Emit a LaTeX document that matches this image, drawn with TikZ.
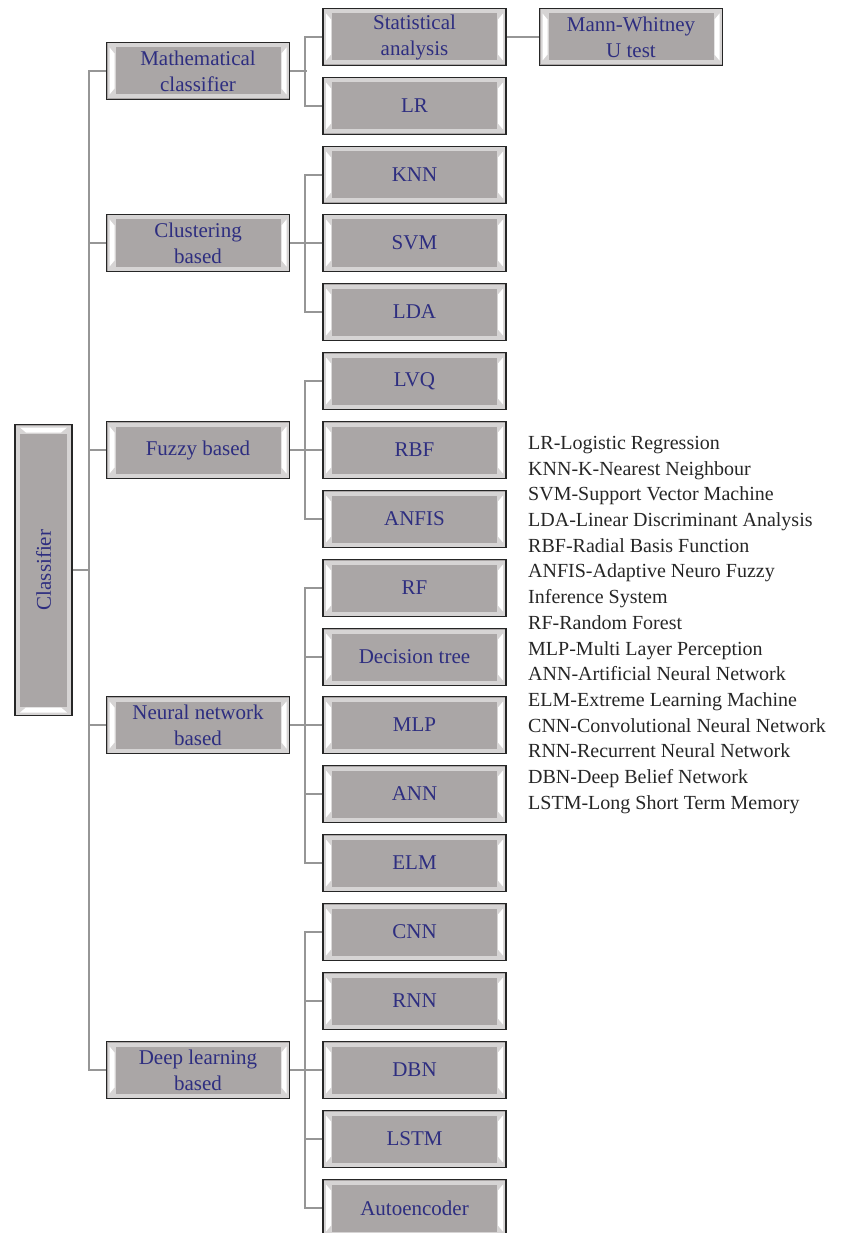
\documentclass[tikz,border=0pt]{standalone}
\usepackage{fontspec}
\usepackage{graphicx}
\setmainfont{Liberation Serif}
\definecolor{boxgray}{RGB}{170,166,166}
\definecolor{bevelgray}{RGB}{214,212,212}
\definecolor{labelblue}{RGB}{46,46,128}
\definecolor{linegray}{RGB}{150,150,150}

\tikzset{
    conn/.style={draw=linegray, line width=1.6pt},
    box/.style={draw=black!85, line width=1.5pt, fill=boxgray, inner sep=0pt,
        minimum width=183pt, minimum height=57pt, align=center, text=labelblue,
        font=\fontsize{21}{26}\selectfont,
        path picture={
            \fill[bevelgray] ([shift={(1pt,-1pt)}]path picture bounding box.north west) rectangle ([shift={(-1pt,1pt)}]path picture bounding box.south east);
            \fill[boxgray] ([shift={(9pt,-5pt)}]path picture bounding box.north west) rectangle ([shift={(-9pt,5pt)}]path picture bounding box.south east);
            \fill[white] ([shift={(3pt,-5pt)}]path picture bounding box.north west) -- ([shift={(8pt,-11pt)}]path picture bounding box.north west)
                -- ([shift={(8pt,11pt)}]path picture bounding box.south west) -- ([shift={(3pt,5pt)}]path picture bounding box.south west) -- cycle;
            \fill[white] ([shift={(-3pt,-5pt)}]path picture bounding box.north east) -- ([shift={(-8pt,-11pt)}]path picture bounding box.north east)
                -- ([shift={(-8pt,11pt)}]path picture bounding box.south east) -- ([shift={(-3pt,5pt)}]path picture bounding box.south east) -- cycle;
        }},
    tallbox/.style={draw=black!85, line width=1.5pt, fill=boxgray, inner sep=0pt,
        minimum width=57pt, minimum height=291pt, text=labelblue,
        font=\fontsize{21}{26}\selectfont,
        path picture={
            \fill[bevelgray] ([shift={(1pt,-1pt)}]path picture bounding box.north west) rectangle ([shift={(-1pt,1pt)}]path picture bounding box.south east);
            \fill[boxgray] ([shift={(5pt,-9pt)}]path picture bounding box.north west) rectangle ([shift={(-5pt,9pt)}]path picture bounding box.south east);
            \fill[white] ([shift={(5pt,-3pt)}]path picture bounding box.north west) -- ([shift={(11pt,-8pt)}]path picture bounding box.north west)
                -- ([shift={(-11pt,-8pt)}]path picture bounding box.north east) -- ([shift={(-5pt,-3pt)}]path picture bounding box.north east) -- cycle;
            \fill[white] ([shift={(5pt,3pt)}]path picture bounding box.south west) -- ([shift={(11pt,8pt)}]path picture bounding box.south west)
                -- ([shift={(-11pt,8pt)}]path picture bounding box.south east) -- ([shift={(-5pt,3pt)}]path picture bounding box.south east) -- cycle;
        }},
    abbrev/.style={align=left, inner sep=0pt, text=black!85, font=\fontsize{20}{25.7}\selectfont}
}

\begin{document}
\begin{tikzpicture}[x=1pt, y=-1pt]
    \useasboundingbox (0,0) rectangle (852,1233);
    % root
    \node[tallbox] (cls) at (43.5,570) {\rotatebox{90}{Classifier}};
    % first level
    \node[box] (math) at (198,71) {Mathematical\\classifier};
    \node[box] (clus) at (198,243) {Clustering\\based};
    \node[box] (fuzz) at (198,450) {Fuzzy based};
    \node[box] (neur) at (198,725) {Neural network\\based};
    \node[box] (deep) at (198,1070) {Deep learning\\based};
    % second level
    \node[box] (stat) at (414.5,37) {Statistical\\analysis};
    \node[box] (lr)   at (414.5,106) {LR};
    \node[box] (knn)  at (414.5,175) {KNN};
    \node[box] (svm)  at (414.5,243) {SVM};
    \node[box] (lda)  at (414.5,312) {LDA};
    \node[box] (lvq)  at (414.5,381) {LVQ};
    \node[box] (rbf)  at (414.5,450) {RBF};
    \node[box] (anfis) at (414.5,519) {ANFIS};
    \node[box] (rf)   at (414.5,588) {RF};
    \node[box] (dtree) at (414.5,657) {Decision tree};
    \node[box] (mlp)  at (414.5,725) {MLP};
    \node[box] (ann)  at (414.5,794) {ANN};
    \node[box] (elm)  at (414.5,863) {ELM};
    \node[box] (cnn)  at (414.5,932) {CNN};
    \node[box] (rnn)  at (414.5,1001) {RNN};
    \node[box] (dbn)  at (414.5,1070) {DBN};
    \node[box] (lstm) at (414.5,1139) {LSTM};
    \node[box] (auto) at (414.5,1208) {Autoencoder};
    % third level
    \node[box] (mann) at (631,37) {Mann-Whitney\\U test};
    % connectors
    \coordinate (trunk) at (90,0);
    \draw[conn] (math.west) -- ++(-17,0) |- (deep.west);
    \draw[conn] (cls.east) -- (cls.east -| trunk);
    \draw[conn] (clus.west) -- ++(-17,0);
    \draw[conn] (fuzz.west) -- ++(-17,0);
    \draw[conn] (neur.west) -- ++(-17,0);
    \draw[conn] (math.east) -- ++(17,0);
    \draw[conn] (clus.east) -- ++(17,0);
    \draw[conn] (fuzz.east) -- ++(17,0);
    \draw[conn] (neur.east) -- ++(17,0);
    \draw[conn] (deep.east) -- ++(17,0);
    \draw[conn] (stat.west) -- ++(-17,0) |- (lr.west);
    \draw[conn] (knn.west) -- ++(-17,0) |- (lda.west);
    \draw[conn] (svm.west) -- ++(-17,0);
    \draw[conn] (lvq.west) -- ++(-17,0) |- (anfis.west);
    \draw[conn] (rbf.west) -- ++(-17,0);
    \draw[conn] (rf.west) -- ++(-17,0) |- (elm.west);
    \draw[conn] (dtree.west) -- ++(-17,0);
    \draw[conn] (mlp.west) -- ++(-17,0);
    \draw[conn] (ann.west) -- ++(-17,0);
    \draw[conn] (cnn.west) -- ++(-17,0) |- (auto.west);
    \draw[conn] (rnn.west) -- ++(-17,0);
    \draw[conn] (dbn.west) -- ++(-17,0);
    \draw[conn] (lstm.west) -- ++(-17,0);
    \draw[conn] (stat.east) -- (mann.west);
    % abbreviations
    \node[abbrev, anchor=north west] (abbr) at (528,436) {LR-Logistic Regression\\KNN-K-Nearest Neighbour\\SVM-Support Vector Machine\\LDA-Linear Discriminant Analysis\\RBF-Radial Basis Function\\ANFIS-Adaptive Neuro Fuzzy\\Inference System\\RF-Random Forest\\MLP-Multi Layer Perception\\ANN-Artificial Neural Network\\ELM-Extreme Learning Machine\\CNN-Convolutional Neural Network\\RNN-Recurrent Neural Network\\DBN-Deep Belief Network\\LSTM-Long Short Term Memory};
\end{tikzpicture}
\end{document}
